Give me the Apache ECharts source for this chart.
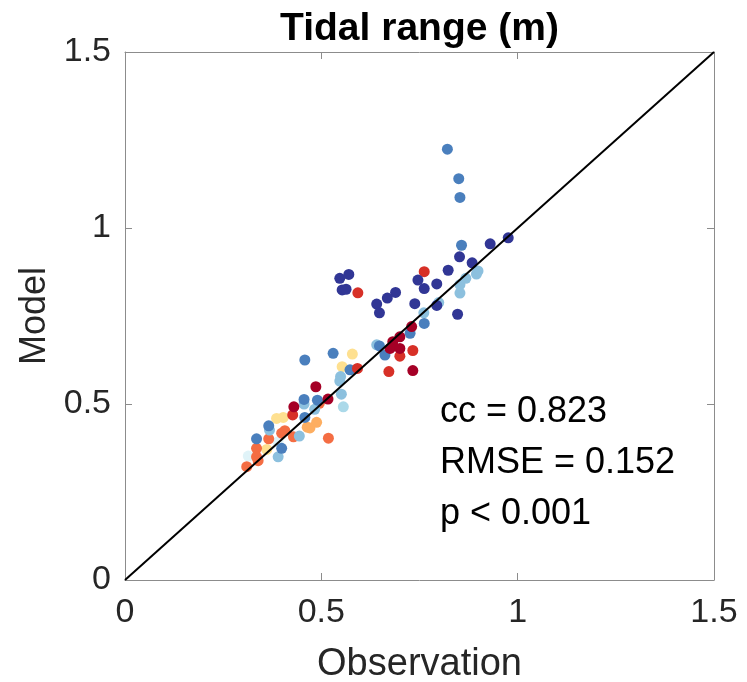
<!DOCTYPE html>
<html>
<head>
<meta charset="utf-8">
<script src="https://cdn.jsdelivr.net/npm/echarts@6/dist/echarts.min.js"></script>
<style>
html,body{margin:0;padding:0;background:#fff;}
#chart{width:747px;height:682px;}
</style>
</head>
<body>
<div id="chart"></div>
<script>
// Data: [observation, model]
const darkBlue = [[0.976,0.972],[0.930,0.955],[0.852,0.918],[0.884,0.901],[0.823,0.880],[0.746,0.852],[0.762,0.828],[0.794,0.841],[0.689,0.817],[0.668,0.801],[0.641,0.784],[0.648,0.759],[0.738,0.785],[0.847,0.755],[0.547,0.857],[0.570,0.868],[0.553,0.824],[0.563,0.826],[0.794,0.780]];
const medBlue = [[0.821,1.224],[0.850,1.140],[0.853,1.087],[0.857,0.951],[0.762,0.729],[0.726,0.701],[0.662,0.639],[0.530,0.644],[0.573,0.597],[0.458,0.625],[0.648,0.665],[0.490,0.511],[0.458,0.462],[0.366,0.438],[0.335,0.401],[0.399,0.374],[0.456,0.513]];
const lightBlue = [[0.895,0.869],[0.899,0.878],[0.868,0.857],[0.853,0.839],[0.853,0.815],[0.799,0.788],[0.761,0.759],[0.549,0.578],[0.547,0.565],[0.551,0.528],[0.456,0.500],[0.483,0.485],[0.368,0.426],[0.444,0.409],[0.390,0.350],[0.641,0.668]];
const paleBlue = [[0.556,0.492]];
const veryPale = [[0.314,0.352],[0.390,0.393]];
const yellow = [[0.579,0.642],[0.553,0.606],[0.386,0.459],[0.403,0.462],[0.361,0.371]];
const orange = [[0.488,0.448],[0.464,0.434],[0.471,0.432]];
const orangeRed = [[0.495,0.502],[0.366,0.401],[0.399,0.417],[0.407,0.424],[0.429,0.407],[0.518,0.403],[0.335,0.374],[0.335,0.350],[0.339,0.339],[0.310,0.322]];
const red = [[0.762,0.876],[0.593,0.816],[0.592,0.601],[0.427,0.469],[0.700,0.636],[0.733,0.652],[0.672,0.592]];
const darkRed = [[0.730,0.720],[0.700,0.691],[0.682,0.677],[0.675,0.658],[0.700,0.658],[0.733,0.595],[0.486,0.549],[0.517,0.514],[0.430,0.492]];
const diagLine = [[0,0],[1.5,1.5]];
const axisTicks = [0, 0.5, 1, 1.5];
const titleText = 'Tidal range (m)';
const xName = 'Observation';
const yName = 'Model';
const statsText = ['cc = 0.823', 'RMSE = 0.152', 'p < 0.001'];

const groups = [
  [veryPale, '#e0f3f8'],
  [paleBlue, '#abd9e9'],
  [yellow, '#fee090'],
  [orange, '#fdae61'],
  [orangeRed, '#f46d43'],
  [lightBlue, '#8cc0de'],
  [medBlue, '#4a7fbd'],
  [red, '#d73027'],
  [darkRed, '#a50026'],
  [darkBlue, '#313695']
];

const chart = echarts.init(document.getElementById('chart'));
const font = 'Liberation Sans, Arial, Helvetica, sans-serif';
const axisCommon = {
  min: 0, max: 1.5, interval: 0.5,
  axisLine: {show: true, onZero: false, lineStyle: {color: '#8c8c8c', width: 1}},
  axisTick: {show: true, inside: true, length: 7, lineStyle: {color: '#8c8c8c'}},
  splitLine: {show: false}
};
const series = groups.map(g => ({
  type: 'scatter', data: g[0], symbolSize: 11,
  itemStyle: {color: g[1], opacity: 1}, z: 3
}));
series.push({
  type: 'line', data: diagLine, symbol: 'none', z: 4,
  lineStyle: {color: '#000', width: 2}
});
chart.setOption({
  animation: false,
  backgroundColor: '#fff',
  grid: {left: 125, right: 33, top: 52, bottom: 102, containLabel: false, outerBoundsMode: 'none'},
  xAxis: [
    Object.assign({}, axisCommon, {
      position: 'bottom',
      name: xName, nameLocation: 'middle', nameGap: 66,
      nameTextStyle: {fontFamily: font, fontSize: 38, color: '#262626'},
      axisLabel: {fontFamily: font, fontSize: 34, color: '#262626', margin: 16,
        formatter: v => axisTicks.includes(v) ? String(v) : ''}
    }),
    Object.assign({}, axisCommon, {position: 'top', axisLabel: {show: false}})
  ],
  yAxis: [
    Object.assign({}, axisCommon, {
      position: 'left',
      name: yName, nameLocation: 'middle', nameGap: 70,
      nameTextStyle: {fontFamily: font, fontSize: 36, color: '#262626'},
      axisLabel: {fontFamily: font, fontSize: 34, color: '#262626', margin: 14,
        formatter: v => axisTicks.includes(v) ? String(v) : ''}
    }),
    Object.assign({}, axisCommon, {position: 'right', axisLabel: {show: false}})
  ],
  series: series,
  graphic: [{
    type: 'text', x: 419.5, y: 29,
    style: {text: titleText, fontFamily: font, fontSize: 39, fontWeight: 'bold', fill: '#000',
      align: 'center', verticalAlign: 'middle'}
  }].concat(statsText.map((t, i) => ({
    type: 'text', x: 440, y: 412 + i * 51,
    style: {text: t, fontFamily: font, fontSize: 36, fill: '#000', align: 'left', verticalAlign: 'middle'}
  })))
});
</script>
</body>
</html>
